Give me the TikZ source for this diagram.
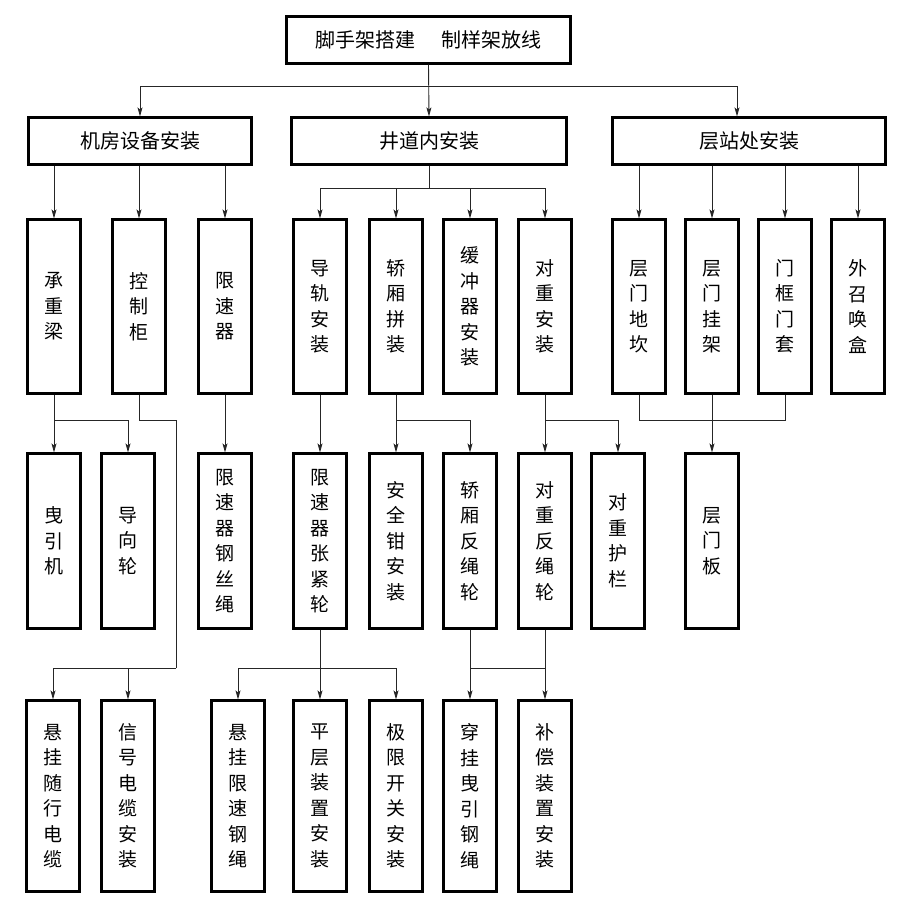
\documentclass[tikz,border=0pt]{standalone}
\usepackage{fontspec}
\newfontfamily\cjk{Noto Sans CJK SC}
\usetikzlibrary{arrows.meta}
\begin{document}
\begin{tikzpicture}[x=1pt,y=-1pt,
  box/.style={draw=black,line width=2.1pt,inner sep=0pt,align=center,
    font=\cjk\fontsize{19}{25.5}\selectfont},
  hbox/.style={box,font=\cjk\fontsize{20}{24}\selectfont,minimum height=47pt},
  vbox/.style={box,minimum width=53pt},
  lv3/.style={vbox,minimum height=174pt},
  lv4/.style={vbox,minimum height=175pt},
  lv5/.style={vbox,minimum height=191pt},
  conn/.style={line width=0.9pt,draw=black!85},
  arr/.style={conn,-{Stealth[length=9pt,width=5pt,inset=2pt]}}]
\fill[white] (0,0) rectangle (916,900);
\useasboundingbox (0,0) rectangle (916,900);

% top
\node[hbox,minimum width=284pt] (top) at (428.5,40) {脚手架搭建\hspace{1.3em}制样架放线};
% level 2
\node[hbox,minimum width=223pt] (A) at (140,141) {机房设备安装};
\node[hbox,minimum width=275pt] (B) at (429,141) {井道内安装};
\node[hbox,minimum width=273pt] (C) at (749,141) {层站处安装};
% level 3
\node[lv3] (c1) at (54,306.5) {承\\重\\梁};
\node[lv3] (c2) at (139,306.5) {控\\制\\柜};
\node[lv3] (c3) at (225,306.5) {限\\速\\器};
\node[lv3] (d1) at (320,306.5) {导\\轨\\安\\装};
\node[lv3] (d2) at (396,306.5) {轿\\厢\\拼\\装};
\node[lv3] (d3) at (470,306.5) {缓\\冲\\器\\安\\装};
\node[lv3] (d4) at (545,306.5) {对\\重\\安\\装};
\node[lv3] (e1) at (639,306.5) {层\\门\\地\\坎};
\node[lv3] (e2) at (712,306.5) {层\\门\\挂\\架};
\node[lv3] (e3) at (785,306.5) {门\\框\\门\\套};
\node[lv3] (e4) at (858,306.5) {外\\召\\唤\\盒};
% level 4
\node[lv4] (f1) at (54,541) {曳\\引\\机};
\node[lv4] (f2) at (128,541) {导\\向\\轮};
\node[lv4] (f3) at (225,541) {限\\速\\器\\钢\\丝\\绳};
\node[lv4] (f4) at (320,541) {限\\速\\器\\张\\紧\\轮};
\node[lv4] (f5) at (396,541) {安\\全\\钳\\安\\装};
\node[lv4] (f6) at (470,541) {轿\\厢\\反\\绳\\轮};
\node[lv4] (f7) at (545,541) {对\\重\\反\\绳\\轮};
\node[lv4] (f8) at (618,541) {对\\重\\护\\栏};
\node[lv4] (f9) at (712,541) {层\\门\\板};
% level 5
\node[lv5] (g1) at (53,796) {悬\\挂\\随\\行\\电\\缆};
\node[lv5] (g2) at (128,796) {信\\号\\电\\缆\\安\\装};
\node[lv5] (g3) at (238,796) {悬\\挂\\限\\速\\钢\\绳};
\node[lv5] (g4) at (320,796) {平\\层\\装\\置\\安\\装};
\node[lv5] (g5) at (396,796) {极\\限\\开\\关\\安\\装};
\node[lv5] (g6) at (470,796) {穿\\挂\\曳\\引\\钢\\绳};
\node[lv5] (g7) at (545,796) {补\\偿\\装\\置\\安\\装};

% helper coordinates
\coordinate (t1) at (429,86);
\coordinate (b1) at (429,188);
\coordinate (h1) at (0,420);
\coordinate (h2) at (0,668);
\coordinate (k1) at (176,420);
\coordinate (k2) at (176,668);

% top -> level 2
\draw[arr] (top.south) -- (B.north);
\draw[arr] (t1) -| (A.north);
\draw[arr] (t1) -| ([xshift=-12pt]C.north);
% A -> level 3
\draw[arr] (A.south -| c1.north) -- (c1.north);
\draw[arr] (A.south -| c2.north) -- (c2.north);
\draw[arr] (A.south -| c3.north) -- (c3.north);
% B -> level 3
\draw[conn] (B.south) -- (b1);
\draw[arr] (b1) -| (d1.north);
\draw[arr] (b1) -| (d2.north);
\draw[arr] (b1) -| (d3.north);
\draw[arr] (b1) -| (d4.north);
% C -> level 3
\draw[arr] (C.south -| e1.north) -- (e1.north);
\draw[arr] (C.south -| e2.north) -- (e2.north);
\draw[arr] (C.south -| e3.north) -- (e3.north);
\draw[arr] (C.south -| e4.north) -- (e4.north);
% level 3 -> level 4
\draw[arr] (c1.south) -- (f1.north);
\draw[arr] (c1.south |- h1) -| (f2.north);
\draw[conn] (c2.south) |- (k1) -- (k2);
\draw[arr] (k2) -| (g1.north);
\draw[arr] (k2) -| (g2.north);
\draw[arr] (c3.south) -- (f3.north);
\draw[arr] (d1.south) -- (f4.north);
\draw[arr] (d2.south) -- (f5.north);
\draw[arr] (d2.south |- h1) -| (f6.north);
\draw[arr] (d4.south) -- (f7.north);
\draw[arr] (d4.south |- h1) -| (f8.north);
\draw[conn] (e1.south) |- (e3.south |- h1) -- (e3.south);
\draw[arr] (e2.south) -- (f9.north);
% level 4 -> level 5
\draw[arr] (f4.south) -- (g4.north);
\draw[arr] (f4.south |- h2) -| (g3.north);
\draw[arr] (f4.south |- h2) -| (g5.north);
\draw[arr] (f6.south) -- (g6.north);
\draw[arr] (f7.south) -- (g7.north);
\draw[conn] (f6.south |- h2) -- (f7.south |- h2);
\end{tikzpicture}
\end{document}
